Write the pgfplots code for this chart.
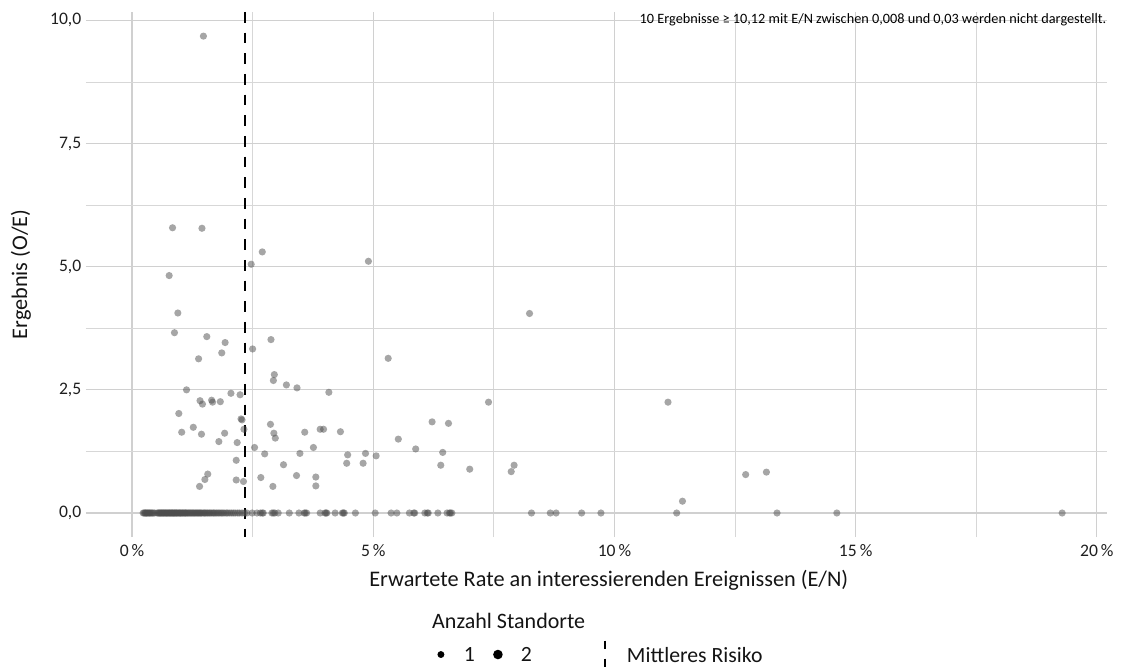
\documentclass[border=0pt]{standalone}
\usepackage{pgfplots}
\pgfplotsset{compat=1.18}
\usepackage{pgfplotstable}
\usepackage{fontspec}
\setmainfont{Carlito}
\definecolor{ptcol}{HTML}{4D4D4D}
\definecolor{gridc}{HTML}{D0D0D0}

\pgfplotstableread{
x y
1.48 9.68
0.84 5.79
1.45 5.78
2.70 5.30
2.47 5.05
4.90 5.11
0.77 4.82
0.95 4.06
0.88 3.66
1.55 3.58
1.93 3.46
1.86 3.25
1.38 3.13
2.88 3.52
2.50 3.33
5.31 3.14
8.24 4.05
2.95 2.81
2.93 2.69
3.20 2.60
3.42 2.54
4.08 2.45
1.13 2.50
1.41 2.28
1.46 2.21
1.65 2.29
1.67 2.25
1.83 2.26
2.05 2.43
2.24 2.40
0.97 2.02
2.26 1.91
2.28 1.89
2.32 1.70
1.27 1.74
1.03 1.64
1.44 1.60
1.92 1.62
2.87 1.80
2.94 1.62
2.97 1.52
3.58 1.64
3.90 1.70
3.97 1.70
4.32 1.65
6.22 1.85
6.56 1.82
1.80 1.45
2.18 1.43
2.54 1.33
2.75 1.20
3.48 1.21
3.76 1.33
4.47 1.18
4.84 1.21
5.06 1.16
5.52 1.50
5.88 1.30
6.44 1.23
4.45 1.01
4.79 1.01
6.40 0.97
2.16 1.07
3.14 0.98
3.41 0.76
3.81 0.73
3.81 0.55
2.92 0.54
2.67 0.72
2.16 0.67
2.31 0.64
1.57 0.79
1.51 0.68
1.40 0.54
7.39 2.25
11.11 2.25
7.00 0.89
7.92 0.97
7.86 0.84
11.41 0.24
12.72 0.78
13.15 0.83
}\nonzero

\pgfplotstableread{
x y
0.23 0
0.25 0
0.27 0
0.28 0
0.30 0
0.31 0
0.33 0
0.35 0
0.36 0
0.38 0
0.40 0
0.42 0
0.44 0
0.47 0
0.52 0
0.54 0
0.56 0
0.57 0
0.59 0
0.60 0
0.62 0
0.63 0
0.65 0
0.66 0
0.68 0
0.69 0
0.71 0
0.72 0
0.74 0
0.75 0
0.77 0
0.78 0
0.80 0
0.81 0
0.83 0
0.84 0
0.86 0
0.87 0
0.89 0
0.90 0
0.92 0
0.93 0
0.95 0
0.97 0
0.98 0
1.00 0
1.01 0
1.03 0
1.05 0
1.06 0
1.08 0
1.10 0
1.11 0
1.13 0
1.15 0
1.17 0
1.19 0
1.21 0
1.23 0
1.25 0
1.27 0
1.29 0
1.31 0
1.33 0
1.35 0
1.37 0
1.39 0
1.41 0
1.43 0
1.45 0
1.48 0
1.50 0
1.52 0
1.55 0
1.57 0
1.60 0
1.62 0
1.65 0
1.68 0
1.70 0
1.73 0
1.76 0
1.79 0
1.82 0
1.85 0
1.88 0
1.91 0
1.95 0
1.98 0
2.02 0
2.06 0
2.10 0
2.14 0
2.19 0
2.23 0
2.28 0
2.33 0
2.38 0
2.49 0
2.59 0
2.66 0
2.70 0
2.72 0
2.90 0
2.93 0
2.96 0
3.03 0
3.26 0
3.46 0
3.57 0
3.59 0
3.62 0
3.90 0
4.00 0
4.02 0
4.04 0
4.21 0
4.36 0
4.38 0
4.40 0
4.63 0
5.04 0
5.37 0
5.49 0
5.75 0
5.84 0
5.86 0
6.07 0
6.12 0
6.14 0
6.34 0
6.53 0
6.58 0
6.60 0
6.63 0
8.28 0
8.67 0
8.79 0
9.32 0
9.72 0
11.29 0
13.37 0
14.61 0
19.28 0
}\zerorow

\begin{document}
\begin{tikzpicture}
\path[use as bounding box] (0,0) rectangle (846pt,503.25pt);
\begin{axis}[
  at={(64.5pt,100.5pt)}, anchor=south west,
  scale only axis, width=765.75pt, height=393.75pt,
  xmin=-0.954, xmax=20.21, ymin=-0.487, ymax=10.17,
  axis line style={draw=none},
  major tick length=0pt, minor tick length=0pt,
  xtick={0,5,10,15,20},
  xticklabels={{0\,\%},{5\,\%},{10\,\%},{15\,\%},{20\,\%}},
  minor xtick={2.5,7.5,12.5,17.5},
  ytick={0,2.5,5,7.5,10},
  yticklabels={{0,0},{2,5},{5,0},{7,5},{10,0}},
  minor ytick={1.25,3.75,6.25,8.75},
  grid=both,
  major grid style={gridc, line width=0.8pt},
  minor grid style={gridc!85, line width=0.65pt},
  ticklabel style={font=\fontsize{13.2}{15}\selectfont, text=black!88},
  xticklabel style={yshift=-2pt},
  xlabel={Erwartete Rate an interessierenden Ereignissen (E/N)},
  ylabel={Ergebnis (O/E)},
  label style={font=\fontsize{16.7}{19}\selectfont, text=black!92},
  xlabel style={at={(axis description cs:0.512,-0.0819)}, anchor=center},
  ylabel style={at={(axis description cs:-0.0637,0.5)}, anchor=center, rotate=0},
  clip=false,
  legend style={at={(axis description cs:0.3405,-0.2229)}, anchor=west,
    draw=none, fill=none, inner sep=0pt, column sep=12pt,
    font=\fontsize{16.3}{19}\selectfont, text=black!92,
    nodes={inner sep=0pt, text depth=0pt}},
  legend columns=3, legend cell align=left,
]
\addplot[only marks, mark=*, mark size=2.7pt, color=ptcol,
  mark options={draw opacity=0, fill=ptcol, fill opacity=0.5}, forget plot]
  table[x=x,y=y] {\zerorow};
\addplot[only marks, mark=*, mark size=2.7pt, color=ptcol,
  mark options={draw opacity=0, fill=ptcol, fill opacity=0.5}, forget plot]
  table[x=x,y=y] {\nonzero};
\addplot[black, line width=1.5pt, dash pattern=on 8pt off 7.5pt, forget plot]
  coordinates {(2.34,10.17) (2.34,-0.487)};
\addlegendimage{legend image code/.code={
  \path[draw=none, fill=none] (0pt,-10.5pt) rectangle (10.5pt,10.5pt);
  \fill[black, draw=none] (5.25pt,0pt) circle (2.6pt);}}
\addlegendentry{1}
\addlegendimage{legend image code/.code={
  \path[draw=none, fill=none] (0pt,-10.5pt) rectangle (10.5pt,10.5pt);
  \fill[black, draw=none] (5.25pt,0pt) circle (3.6pt);}}
\addlegendentry{2}
\addlegendimage{legend image code/.code={
  \path[draw=none, fill=none] (0pt,-10.5pt) rectangle (47.25pt,10.5pt);
  \draw[black, line width=1.5pt, dash pattern=on 6pt off 7.5pt] (42.75pt,10.5pt) -- (42.75pt,-9.75pt);}}
\addlegendentry{Mittleres Risiko}
\node[anchor=base west, font=\fontsize{16.5}{19}\selectfont, text=black!92]
  at (axis description cs:0.3345,-0.1752) {Anzahl Standorte};
\node[anchor=base east, font=\fontsize{10.7}{12}\selectfont, xshift=3pt]
  at (axis description cs:1,0.979) {10 Ergebnisse ≥ 10,12 mit E/N zwischen 0,008 und 0,03 werden nicht dargestellt.};
\end{axis}
\end{tikzpicture}
\end{document}
